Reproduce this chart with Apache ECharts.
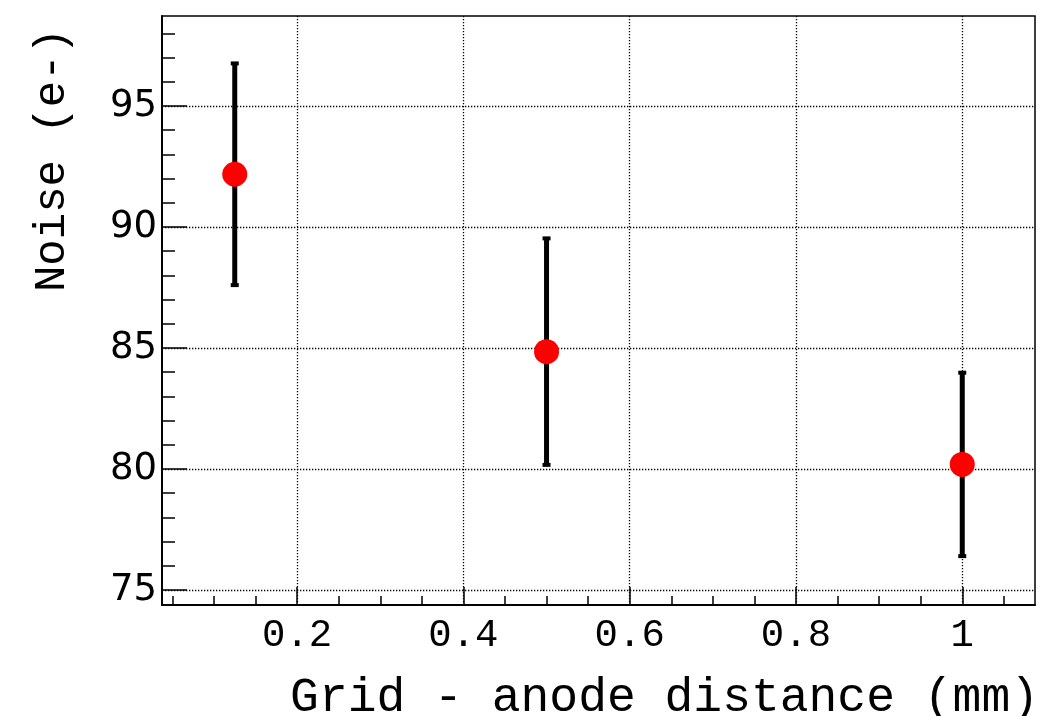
<!DOCTYPE html>
<html>
<head>
<meta charset="utf-8">
<script src="https://cdn.jsdelivr.net/npm/echarts@6/dist/echarts.min.js"></script>
<style>
    html, body {margin: 0; padding: 0; background: #fff;}
    #chartWrap {width: 1045px; height: 716px;}
</style>
</head>
<body>
<div id="chartWrap"></div>
<script>
// grid - anode distance (mm), noise (e-) and its error
const distance = [0.125, 0.5, 1.0];
const noise = [92.18, 84.85, 80.19];
const noiseErr = [4.58, 4.68, 3.79];

const xMajorTicks = [0.2, 0.4, 0.6, 0.8, 1.0];
const xMinorTicks = [0.05, 0.1, 0.15, 0.25, 0.3, 0.35, 0.45, 0.5, 0.55, 0.65, 0.7, 0.75, 0.85, 0.9, 0.95, 1.05];
const yMajorTicks = [75, 80, 85, 90, 95];
const yMinorTicks = [76, 77, 78, 79, 81, 82, 83, 84, 86, 87, 88, 89, 91, 92, 93, 94, 96, 97, 98];

const xRange = [0.0375, 1.0875];
const yRange = [74.38, 98.72];

let myChart = echarts.init(document.getElementById('chartWrap'));

const dotted = {color: '#000', width: 1.3, type: [1.3, 1.7]};

function majorAxis(pos, range, ticks, tickLen, label) {
    return {
        type: 'value',
        position: pos,
        min: range[0],
        max: range[1],
        axisLine: {show: true, onZero: false, lineStyle: {color: '#000', width: 2}},
        axisTick: {show: true, inside: true, length: tickLen, customValues: ticks,
            lineStyle: {color: '#000', width: 1.5}},
        axisLabel: Object.assign({customValues: ticks, color: '#000'}, label),
        splitLine: {show: true, lineStyle: dotted}
    };
}

function minorAxis(pos, range, ticks, tickLen) {
    return {
        type: 'value',
        position: pos,
        offset: 0,
        min: range[0],
        max: range[1],
        axisLine: {show: false, onZero: false},
        axisTick: {show: true, inside: true, length: tickLen, customValues: ticks,
            lineStyle: {color: '#000', width: 1.5}},
        axisLabel: {show: false},
        splitLine: {show: false}
    };
}

const points = distance.map(function (x, i) {
    return [x, noise[i], noiseErr[i]];
});

myChart.setOption({
    animation: false,
    grid: {
        left: 162, right: 10, top: 16, bottom: 111,
        show: true, borderColor: '#000', borderWidth: 1.5, backgroundColor: '#fff'
    },
    xAxis: [
        majorAxis('bottom', xRange, xMajorTicks, 18, {
            fontFamily: 'Liberation Mono', fontSize: 39, margin: 11
        }),
        minorAxis('bottom', xRange, xMinorTicks, 9)
    ],
    yAxis: [
        majorAxis('left', yRange, yMajorTicks, 25, {
            fontFamily: 'DejaVu Sans', fontSize: 37, margin: 5
        }),
        minorAxis('left', yRange, yMinorTicks, 13)
    ],
    graphic: [
        {
            type: 'text',
            x: 1039, y: 698,
            style: {
                text: 'Grid - anode distance (mm)',
                font: '48px "Liberation Mono"',
                fill: '#000',
                textAlign: 'right',
                textVerticalAlign: 'middle'
            }
        },
        {
            type: 'text',
            x: 52, y: 28,
            rotation: Math.PI / 2,
            style: {
                text: 'Noise (e-)',
                font: '44px "Liberation Mono"',
                fill: '#000',
                textAlign: 'right',
                textVerticalAlign: 'middle'
            }
        }
    ],
    series: [
        {
            name: 'error',
            type: 'custom',
            xAxisIndex: 0,
            yAxisIndex: 0,
            data: points,
            renderItem: function (params, api) {
                const x = api.value(0);
                const y = api.value(1);
                const e = api.value(2);
                const hi = api.coord([x, y + e]);
                const lo = api.coord([x, y - e]);
                return {
                    type: 'group',
                    children: [
                        {type: 'line', shape: {x1: hi[0], y1: hi[1], x2: lo[0], y2: lo[1]},
                            style: {stroke: '#000', lineWidth: 5}},
                        {type: 'rect', shape: {x: hi[0] - 4, y: hi[1] - 2, width: 8, height: 4},
                            style: {fill: '#000'}},
                        {type: 'rect', shape: {x: lo[0] - 4, y: lo[1] - 2, width: 8, height: 4},
                            style: {fill: '#000'}}
                    ]
                };
            },
            z: 3
        },
        {
            name: 'noise',
            type: 'scatter',
            xAxisIndex: 0,
            yAxisIndex: 0,
            data: points.map(function (p) { return [p[0], p[1]]; }),
            symbol: 'circle',
            symbolSize: 25,
            itemStyle: {color: '#ff0000', opacity: 1},
            z: 4
        }
    ]
});
</script>
</body>
</html>
